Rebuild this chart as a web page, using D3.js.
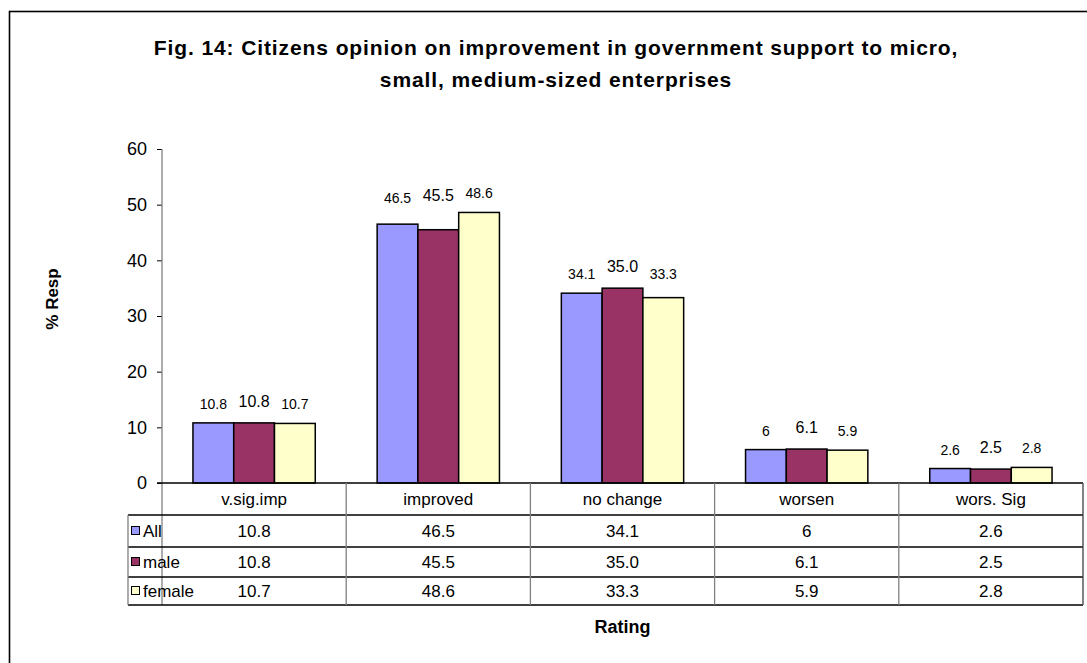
<!DOCTYPE html>
<html>
<head>
<meta charset="utf-8">
<script src="https://cdn.jsdelivr.net/npm/d3@7"></script>
<style>
  html, body { margin: 0; padding: 0; background: #fff; }
  svg { display: block; font-family: "Liberation Sans", Arial, sans-serif; }
</style>
</head>
<body>
<svg id="chart" width="1087" height="663"></svg>
<script>
// Survey ratings and percentage of respondents per group
const categories = ["v.sig.imp", "improved", "no change", "worsen", "wors. Sig"];
const seriesNames = ["All", "male", "female"];
const allValues = [10.8, 46.5, 34.1, 6, 2.6];
const maleValues = [10.8, 45.5, 35.0, 6.1, 2.5];
const femaleValues = [10.7, 48.6, 33.3, 5.9, 2.8];
const valueLabels = {
  All: ["10.8", "46.5", "34.1", "6", "2.6"],
  male: ["10.8", "45.5", "35.0", "6.1", "2.5"],
  female: ["10.7", "48.6", "33.3", "5.9", "2.8"]
};
const yTicks = [0, 10, 20, 30, 40, 50, 60];
const colors = { All: "#9999FF", male: "#993366", female: "#FFFFCC" };

const series = [
  { name: "All", values: allValues },
  { name: "male", values: maleValues },
  { name: "female", values: femaleValues }
];

const svg = d3.select("#chart");

// outer frame
svg.append("rect")
  .attr("x", 9.5).attr("y", 11.5)
  .attr("width", 1100).attr("height", 700)
  .attr("fill", "#fff").attr("stroke", "#000").attr("stroke-width", 1.6);

// title
const title = svg.append("text")
  .attr("text-anchor", "middle")
  .attr("font-weight", "bold").attr("font-size", 21)
  .attr("letter-spacing", 0.9);
title.append("tspan").attr("x", 556).attr("y", 55)
  .text("Fig. 14: Citizens opinion on improvement in government support to micro,");
title.append("tspan").attr("x", 556).attr("y", 87)
  .text("small, medium-sized enterprises");

// plot geometry
const plotLeft = 162, plotRight = 1083, plotTop = 149, zeroY = 483;
const tableLeft = 128, headerBottom = 515;
const rowLines = [547, 577, 605];

const x = d3.scaleBand().domain(categories).range([plotLeft, plotRight]).padding(0);
const bw = x.bandwidth();
const xs = d3.scaleBand().domain(seriesNames).range([bw * 0.168, bw * 0.832]).padding(0);
const y = d3.scaleLinear().domain([0, 60]).range([zeroY, plotTop]);

// y axis
const yAxis = d3.axisLeft(y).tickValues(yTicks).tickSize(5).tickPadding(10).tickFormat(d3.format("d"));
const gy = svg.append("g").attr("transform", `translate(${plotLeft},0)`).call(yAxis);
gy.select(".domain").remove();
gy.selectAll(".tick line").attr("stroke", "#000");
gy.selectAll(".tick text").attr("font-size", 18).attr("fill", "#000")
  .attr("font-family", "Liberation Sans, Arial, sans-serif");
svg.append("line").attr("x1", plotLeft).attr("x2", plotLeft).attr("y1", plotTop).attr("y2", rowLines[2])
  .attr("stroke", "#808080").attr("stroke-width", 1.3);

// bars
const groups = svg.append("g").selectAll("g").data(categories).join("g")
  .attr("transform", d => `translate(${x(d)},0)`);

groups.each(function (cat, ci) {
  const g = d3.select(this);
  const groupTop = y(d3.max(series, s => s.values[ci]));
  series.forEach(s => {
    const v = s.values[ci];
    g.append("rect")
      .attr("x", xs(s.name)).attr("y", y(v))
      .attr("width", xs.bandwidth()).attr("height", zeroY - y(v))
      .attr("fill", colors[s.name]).attr("stroke", "#000").attr("stroke-width", 1.5);
    const isMale = s.name === "male";
    const ly = Math.min(y(v) - 14, groupTop - 9) - (isMale ? 2 : 0);
    g.append("text")
      .attr("x", xs(s.name) + xs.bandwidth() / 2).attr("y", ly)
      .attr("text-anchor", "middle")
      .attr("font-size", isMale ? 16 : 14)
      .text(valueLabels[s.name][ci]);
  });
});

// baseline
svg.append("line").attr("x1", plotLeft - 5).attr("x2", plotRight).attr("y1", zeroY).attr("y2", zeroY)
  .attr("stroke", "#000").attr("stroke-width", 1.3);

// data table
const table = svg.append("g");
[headerBottom, ...rowLines].forEach(yy => {
  table.append("line").attr("x1", tableLeft).attr("x2", plotRight).attr("y1", yy).attr("y2", yy)
    .attr("stroke", "#000").attr("stroke-width", 1.3);
});
table.append("line").attr("x1", tableLeft).attr("x2", tableLeft)
  .attr("y1", headerBottom).attr("y2", rowLines[2]).attr("stroke", "#808080").attr("stroke-width", 1.3);
categories.slice(1).forEach(c => {
  table.append("line").attr("x1", x(c)).attr("x2", x(c)).attr("y1", zeroY).attr("y2", rowLines[2])
    .attr("stroke", "#808080").attr("stroke-width", 1.3);
});
table.append("line").attr("x1", plotRight).attr("x2", plotRight).attr("y1", zeroY).attr("y2", rowLines[2])
  .attr("stroke", "#404040").attr("stroke-width", 1.3);

// header labels
categories.forEach(c => {
  table.append("text").attr("x", x(c) + bw / 2).attr("y", (zeroY + headerBottom) / 2 + 6)
    .attr("text-anchor", "middle").attr("font-size", 17).text(c);
});

// rows
const rowTops = [headerBottom, rowLines[0], rowLines[1]];
series.forEach((s, ri) => {
  const cy = (rowTops[ri] + rowLines[ri]) / 2;
  table.append("rect").attr("x", tableLeft + 3.5).attr("y", cy - 4.5)
    .attr("width", 8).attr("height", 8)
    .attr("fill", colors[s.name]).attr("stroke", "#000").attr("stroke-width", 1);
  table.append("text").attr("x", tableLeft + 15).attr("y", cy + 6)
    .attr("font-size", 17).text(s.name);
  categories.forEach((c, ci) => {
    table.append("text").attr("x", x(c) + bw / 2).attr("y", cy + 6)
      .attr("text-anchor", "middle").attr("font-size", 17)
      .text(valueLabels[s.name][ci]);
  });
});

// axis titles
svg.append("text").attr("transform", "translate(58,299) rotate(-90)")
  .attr("text-anchor", "middle").attr("font-weight", "bold").attr("font-size", 17)
  .text("% Resp");
svg.append("text").attr("x", (plotLeft + plotRight) / 2).attr("y", 633)
  .attr("text-anchor", "middle").attr("font-weight", "bold").attr("font-size", 18)
  .text("Rating");
</script>
</body>
</html>
